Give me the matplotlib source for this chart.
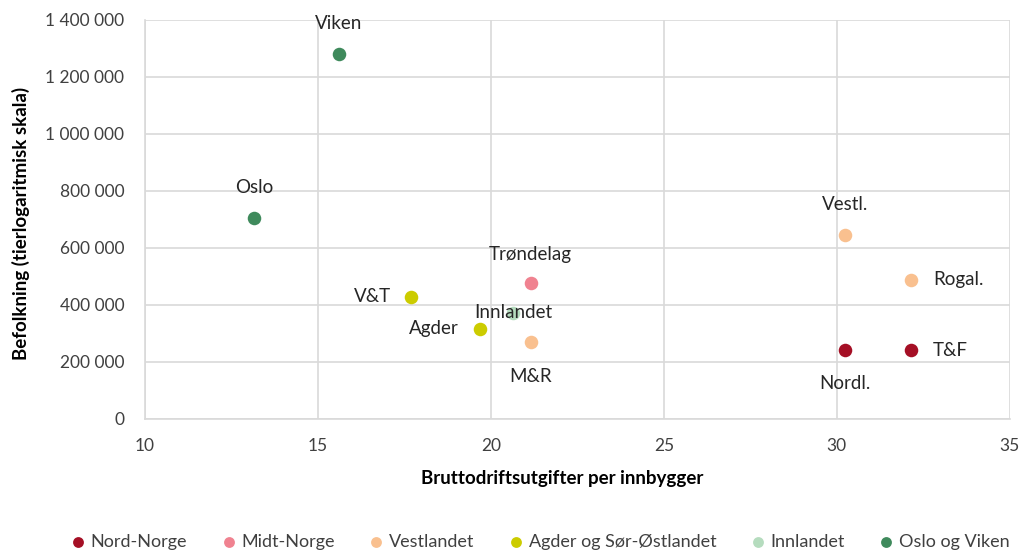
"""
Scatter: gross operating expenses per inhabitant vs population, by region
"""
import matplotlib
matplotlib.use('Agg')
import matplotlib.pyplot as plt
from matplotlib.ticker import FuncFormatter

plt.rcParams['font.family'] = ['Lato', 'DejaVu Sans']

# Data
groups = ['Nord-Norge', 'Midt-Norge', 'Vestlandet', 'Agder og Sør-Østlandet',
          'Innlandet', 'Oslo og Viken']
colors = ['#A50F25', '#F08290', '#F9C08F', '#CCCC00', '#B5DCBE', '#3F8A5C']

labels = ['Nordl.', 'T&F', 'Trøndelag', 'Vestl.', 'Rogal.', 'M&R',
          'V&T', 'Agder', 'Innlandet', 'Oslo', 'Viken']
group_of = ['Nord-Norge', 'Nord-Norge', 'Midt-Norge', 'Vestlandet', 'Vestlandet',
            'Vestlandet', 'Agder og Sør-Østlandet', 'Agder og Sør-Østlandet',
            'Innlandet', 'Oslo og Viken', 'Oslo og Viken']
utgifter = [30.25, 32.15, 21.15, 30.25, 32.15, 21.15, 17.7, 19.7, 20.65, 13.15, 15.6]
befolkning = [242000, 242000, 477000, 646000, 488000, 270000,
              428000, 316000, 372000, 705000, 1281000]

# label offsets in pixels (dx, dy, ha)
offsets = {
    'Nordl.': (0, -33, 'center'), 'T&F': (22, 0, 'left'),
    'Trøndelag': (0, 29, 'center'), 'Vestl.': (0, 30, 'center'),
    'Rogal.': (22, 0, 'left'), 'M&R': (0, -34, 'center'),
    'V&T': (-20, 0, 'right'), 'Agder': (-22, 0, 'right'),
    'Innlandet': (0, 0, 'center'), 'Oslo': (0, 31, 'center'),
    'Viken': (0, 30, 'center'),
}

fig = plt.figure(figsize=(10.25, 5.54), dpi=100)
ax = fig.add_axes([0.1415, 0.2437, 0.8435, 0.7203])

for g, c in zip(groups, colors):
    xs = [x for x, gg in zip(utgifter, group_of) if gg == g]
    ys = [y for y, gg in zip(befolkning, group_of) if gg == g]
    ax.scatter(xs, ys, s=95, color=c, label=g, zorder=3, linewidths=0)

for lab, x, y in zip(labels, utgifter, befolkning):
    dx, dy, ha = offsets[lab]
    ax.annotate(lab, (x, y), xytext=(dx, dy), textcoords='offset pixels',
                ha=ha, va='center', fontsize=13.5, color='#262626', zorder=4)

ax.set_xlim(10, 35)
ax.set_ylim(0, 1400000)
ax.set_xticks([10, 15, 20, 25, 30, 35])
ax.set_yticks(range(0, 1400001, 200000))
ax.yaxis.set_major_formatter(FuncFormatter(lambda v, p: f"{int(v):,}".replace(',', ' ')))
ax.grid(True, color='#D9D9D9', linewidth=1.2)
ax.set_axisbelow(True)
for s in ['top', 'right']:
    ax.spines[s].set_visible(False)
for s in ['left', 'bottom']:
    ax.spines[s].set_color('#D9D9D9')
    ax.spines[s].set_linewidth(1.2)
ax.tick_params(length=0, labelsize=12.5, labelcolor='#404040')
ax.tick_params(axis='y', pad=15)
ax.tick_params(axis='x', pad=14)

ax.set_xlabel('Bruttodriftsutgifter per innbygger', fontsize=13.5, fontweight='bold')
ax.xaxis.set_label_coords(0.483, -0.128)
ax.set_ylabel('Befolkning (tierlogaritmisk skala)', fontsize=13.5, fontweight='bold')
ax.yaxis.set_label_coords(-0.133, 0.49)

fig.legend(loc='lower center', ncol=6, frameon=False, fontsize=13,
           bbox_to_anchor=(0.527, -0.022), handlelength=0.8, handletextpad=0.3,
           columnspacing=1.9, markerscale=0.8, labelcolor='#404040')

plt.savefig('out.png', dpi=100)
